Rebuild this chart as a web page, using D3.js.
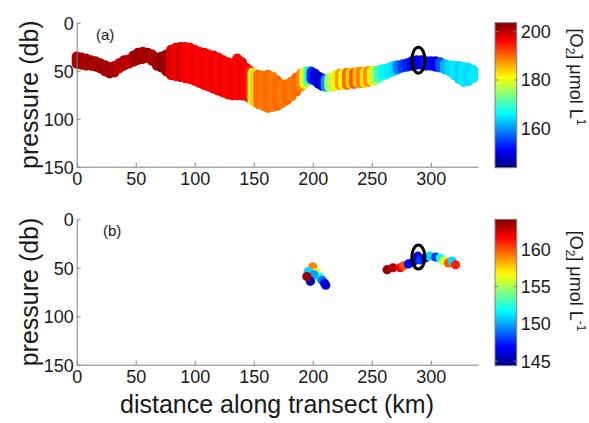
<!DOCTYPE html>
<html>
<head>
<meta charset="utf-8">
<script src="https://cdn.jsdelivr.net/npm/d3@7"></script>
<style>
  body { margin: 0; background: #fff; }
  svg { display: block; }
  text { font-family: "Liberation Sans", Arial, Helvetica, sans-serif; fill: #1a1a1a; }
</style>
</head>
<body>
<svg id="chart" width="589" height="423"></svg>
<script>
// ---- tick labels ----
const xTicks = [0, 50, 100, 150, 200, 250, 300];
const yTicks = [0, 50, 100, 150];
const cbTicksA = [160, 180, 200];
const cbTicksB = [145, 150, 155, 160];

// ---- panel (a): continuous glider casts (km, shallowest db, deepest db, O2 umol/L) ----
const bandKm = [0,4,8,12,16,20,24,28,32,36,40,44,48,52,56,60,64,68,72,76,
  80,84,88,92,96,100,104,108,112,116,120,124,128,132,136,140,144,147,149,151,
  154,158,162,166,170,174,178,182,186,190,193,195,197,199,202,205,208,211,214,217,
  220,223,226,229,232,235,238,241,244,247,250,253,256,260,264,268,272,276,280,284,
  288,292,296,300,304,308,312,316,320,324,328,332,336];
const bandTop = [30,31,32,34,35,37,39,41,40,37,34,33,29,26,25,26,28,31,30,28,
  23,21,20,20,21,23,25,26,28,29,31,34,36,37,32,36,42,45,47,48,
  49,50,49,51,55,59,59,56,52,48,46,45,45,46,48,51,53,54,53,52,
  49,48,48,47,47,47,46,46,46,45,45,45,44,43,42,40,39,38,37,35,
  34,34,35,35,35,36,38,39,40,40,41,42,44];
const bandBottom = [48,49,50,50,51,53,56,58,57,53,50,48,46,44,43,42,45,50,52,56,
  60,61,62,63,64,66,68,70,72,74,76,78,80,81,81,81,82,84,86,88,
  90,92,94,93,92,89,86,82,77,72,69,67,65,64,66,69,71,72,72,72,
  71,70,70,70,69,69,68,68,68,67,66,65,63,60,58,56,54,52,51,50,
  49,49,50,50,51,52,54,56,60,64,67,66,63];
const bandO2 = [201,202,201,202,201,202,201,202,201,200,201,200,201,202,201,202,201,202,203,202,
  198,197,198,197,196,197,196,197,196,197,196,197,196,197,196,197,196,194,178,184,
  190,189,190,189,190,189,190,189,190,188,180,176,168,153,150,147,150,160,175,178,
  182,187,181,190,184,191,185,189,183,188,182,176,170,166,165,164,158,155,153,150,
  149,151,153,152,150,156,162,164,165,164,165,164,165];

// ---- panel (b): isolated samples (km, db, O2 umol/L) ----
const dotKm = [200,203,206,196,201,208,210,211,198,195,
  263,268,274,277,281,285,289,291,295,299,304,308,311,315,318,321];
const dotP = [49,55,60,54,57,63,66,68,64,59,
  52,50,50,48,46,44,38,42,40,38,39,40,43,45,43,47];
const dotO2 = [159,156,152,151,150,149,147,146,145.5,163.5,
  163.5,163,161.5,160,147,146,146,148,147,151,148,152,156,160,151,161];

// highlighted profile
const markKm = 289.5;
const markP = 39;

// ---- colour map (MATLAB-style jet) ----
function jet(t) {
  const c = v => Math.max(0, Math.min(1, v));
  const r = c(1.5 - Math.abs(4 * t - 3));
  const g = c(1.5 - Math.abs(4 * t - 2));
  const b = c(1.5 - Math.abs(4 * t - 1));
  return d3.rgb(r * 255, g * 255, b * 255).toString();
}

const svg = d3.select("#chart");
const left = 76.7, right = 478;
const axisColor = "#808080";

const x = d3.scaleLinear().domain([0, 340]).range([left, right]);

const panels = [
  { id: "a", top: 22.7, bottom: 166.7, cDomain: [143.7, 203.7], cTicks: cbTicksA, sup: "1" },
  { id: "b", top: 219.3, bottom: 364.7, cDomain: [144.4, 164.0], cTicks: cbTicksB, sup: "-1" }
];

panels.forEach(pn => {
  const y = d3.scaleLinear().domain([0, 150]).range([pn.top, pn.bottom]);
  const color = d3.scaleSequential(jet).domain(pn.cDomain);
  const g = svg.append("g");

  // data marks
  const marks = g.append("g");
  if (pn.id === "a") {
    const r = 5;
    const casts = bandKm.map((k, i) => ({ k, t: bandTop[i], b: bandBottom[i], o: bandO2[i] }));
    marks.selectAll("line").data(casts).join("line")
      .attr("x1", d => x(d.k)).attr("x2", d => x(d.k))
      .attr("y1", d => Math.min(y(d.t) + r, (y(d.t) + y(d.b)) / 2))
      .attr("y2", d => Math.max(y(d.b) - r, (y(d.t) + y(d.b)) / 2))
      .attr("stroke", d => color(d.o))
      .attr("stroke-width", 2 * r)
      .attr("stroke-linecap", "round");
  } else {
    const pts = dotKm.map((k, i) => ({ k, p: dotP[i], o: dotO2[i] }));
    marks.selectAll("circle").data(pts).join("circle")
      .attr("cx", d => x(d.k)).attr("cy", d => y(d.p))
      .attr("r", 4.6)
      .attr("fill", d => color(d.o));
  }

  // highlighted profile ring
  g.append("ellipse")
    .attr("cx", x(markKm)).attr("cy", y(markP))
    .attr("rx", 6.5).attr("ry", pn.id === "a" ? 13 : 12)
    .attr("fill", "none").attr("stroke", "#000").attr("stroke-width", 3);

  // axes
  const xAxis = d3.axisBottom(x).tickValues(xTicks).tickSizeInner(-4).tickSizeOuter(0).tickPadding(6);
  const yAxis = d3.axisLeft(y).tickValues(yTicks).tickSizeInner(-4).tickSizeOuter(0).tickPadding(3);

  const gx = g.append("g").attr("transform", `translate(0,${pn.bottom})`).call(xAxis);
  const gy = g.append("g").attr("transform", `translate(${left},0)`).call(yAxis);
  [gx, gy].forEach(a => {
    a.select(".domain").attr("stroke", axisColor);
    a.selectAll(".tick line").attr("stroke", axisColor);
    a.selectAll(".tick text").attr("font-size", 18).attr("fill", "#1a1a1a")
      .style("font-family", '"Liberation Sans", Arial, sans-serif');
  });
  gy.selectAll(".tick text").attr("dy", "0.36em");

  // panel tag
  g.append("text")
    .attr("x", pn.id === "a" ? 96 : 103)
    .attr("y", pn.top + 17)
    .attr("font-size", 15)
    .text(`(${pn.id})`);

  // y label
  g.append("text")
    .attr("transform", `translate(38,${(pn.top + pn.bottom) / 2}) rotate(-90)`)
    .attr("text-anchor", "middle")
    .attr("font-size", 25)
    .text("pressure (db)");

  // colour bar
  const cbX = 495, cbW = 21.7;
  const cy = d3.scaleLinear().domain(pn.cDomain).range([pn.bottom + 1, pn.top]);
  const gradId = "grad-" + pn.id;
  const grad = svg.append("defs").append("linearGradient")
    .attr("id", gradId).attr("x1", 0).attr("y1", 1).attr("x2", 0).attr("y2", 0);
  d3.range(0, 1.0001, 0.02).forEach(t => {
    grad.append("stop").attr("offset", t)
      .attr("stop-color", color(pn.cDomain[0] + t * (pn.cDomain[1] - pn.cDomain[0])));
  });
  g.append("rect")
    .attr("x", cbX).attr("y", pn.top).attr("width", cbW).attr("height", pn.bottom + 1 - pn.top)
    .attr("fill", `url(#${gradId})`).attr("stroke", axisColor).attr("stroke-width", 1);
  const cbTick = g.append("g");
  pn.cTicks.forEach(v => {
    cbTick.append("line").attr("x1", cbX).attr("x2", cbX + 3).attr("y1", cy(v)).attr("y2", cy(v))
      .attr("stroke", axisColor);
    cbTick.append("line").attr("x1", cbX + cbW - 3).attr("x2", cbX + cbW).attr("y1", cy(v)).attr("y2", cy(v))
      .attr("stroke", axisColor);
    cbTick.append("text").attr("x", cbX + cbW + 4).attr("y", cy(v)).attr("dy", "0.36em")
      .attr("font-size", 18).text(v);
  });

  // colour bar label
  const midY = pn.id === "a" ? 77 : 281;
  const lab = g.append("text")
    .attr("transform", `translate(570,${midY}) rotate(90)`)
    .attr("text-anchor", "middle")
    .attr("font-size", 18);
  lab.append("tspan").text("[O");
  lab.append("tspan").attr("font-size", 12).attr("dy", 4).text("2");
  lab.append("tspan").attr("dy", -4).text("] μmol L");
  lab.append("tspan").attr("font-size", 12).attr("dy", -7).text(pn.sup);
});

// x label
svg.append("text")
  .attr("x", 277).attr("y", 413)
  .attr("text-anchor", "middle")
  .attr("font-size", 25)
  .text("distance along transect (km)");
</script>
</body>
</html>
